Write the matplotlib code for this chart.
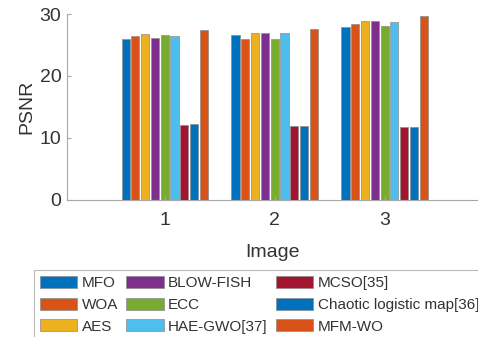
import matplotlib.pyplot as plt
import numpy as np

plt.rcParams['font.family'] = ['Liberation Sans', 'DejaVu Sans']

# PSNR per image for each method
images = ['1', '2', '3']
methods = ['MFO', 'WOA', 'AES', 'BLOW-FISH', 'ECC', 'HAE-GWO[37]',
           'MCSO[35]', 'Chaotic logistic map[36]', 'MFM-WO']
mfo = [26.0, 26.7, 28.0]
woa = [26.4, 25.9, 28.4]
aes = [26.8, 26.9, 28.9]
blowfish = [26.1, 26.9, 28.9]
ecc = [26.7, 26.0, 28.1]
hae_gwo = [26.5, 26.9, 28.7]
mcso = [12.1, 11.9, 11.8]
chaotic = [12.2, 11.9, 11.8]
mfm_wo = [27.4, 27.6, 29.7]

series = [mfo, woa, aes, blowfish, ecc, hae_gwo, mcso, chaotic, mfm_wo]
colors = ['#0072BD', '#D95319', '#EDB120', '#7E2F8E', '#77AC30',
          '#4DBEEE', '#A2142F', '#0072BD', '#D95319']

fig = plt.figure(figsize=(4.78, 3.37), dpi=100)
ax = fig.add_axes([0.140, 0.408, 0.860, 0.550])

x = np.arange(1, len(images) + 1)
pitch = 0.089
width = 0.074
for i, (vals, c, name) in enumerate(zip(series, colors, methods)):
    off = (i - (len(series) - 1) / 2) * pitch
    ax.bar(x + off, vals, width, color=c, edgecolor='#8c8c8c',
           linewidth=0.5, label=name)

ax.set_xlim(0.11, 3.85)
ax.set_ylim(0, 30)
ax.set_xticks(x)
ax.set_xticklabels(images)
ax.set_yticks([0, 10, 20, 30])
for s in ['top', 'right']:
    ax.spines[s].set_visible(False)
for s in ['left', 'bottom']:
    ax.spines[s].set_color('#a8a8a8')
    ax.spines[s].set_linewidth(0.8)
ax.tick_params(direction='in', length=3, color='#a8a8a8',
               labelsize=14, labelcolor='#333333')
ax.tick_params(axis='x', pad=9)
ax.tick_params(axis='y', pad=4)
ax.set_xlabel('Image', fontsize=14, color='#333333', labelpad=10.5)
ax.set_ylabel('PSNR', fontsize=14, color='#333333', labelpad=3)

leg = fig.legend(loc='upper left', bbox_to_anchor=(0.071, 0.199), ncol=3,
                 fontsize=11, frameon=True, fancybox=False,
                 handlelength=2.45, handleheight=0.85, handletextpad=0.27,
                 columnspacing=0.55, labelspacing=0.47, borderpad=0.4,
                 borderaxespad=0)
leg.get_frame().set_edgecolor('#a8a8a8')
leg.get_frame().set_linewidth(0.8)
for t in leg.get_texts():
    t.set_color('#333333')

fig.savefig('out.png', dpi=100)
